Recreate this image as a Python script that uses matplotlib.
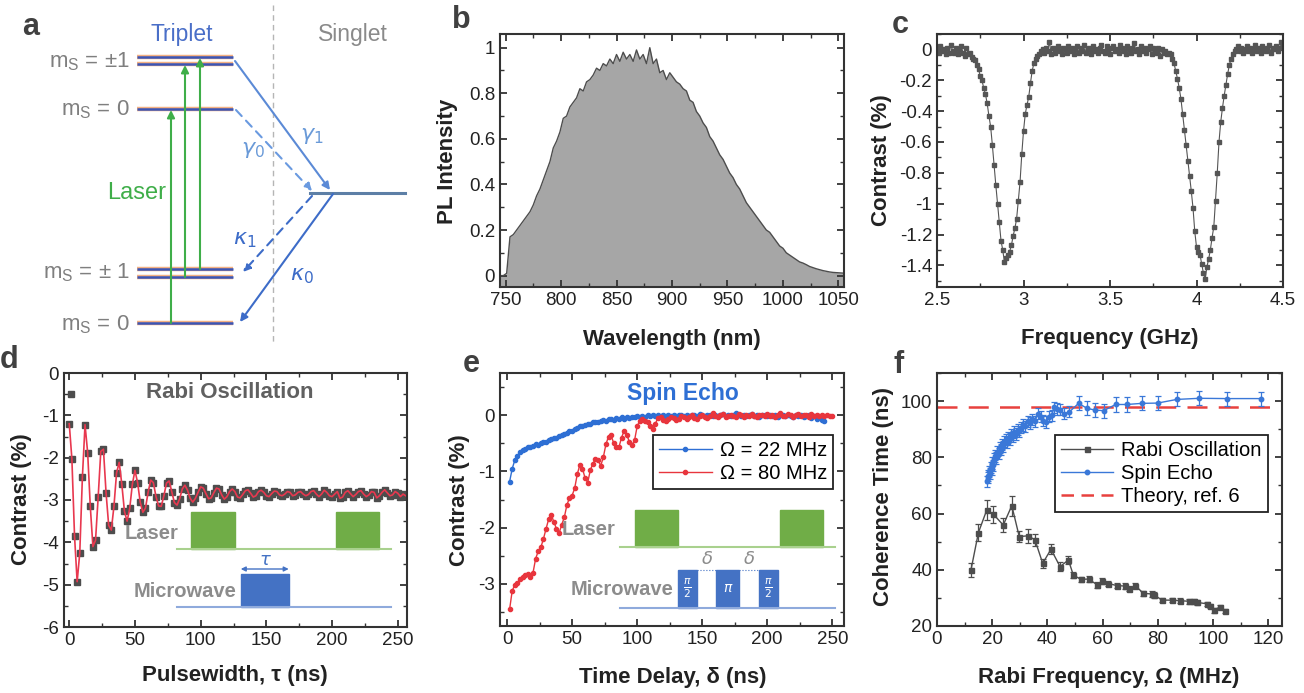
import matplotlib
matplotlib.use('Agg')
import matplotlib.pyplot as plt
import numpy as np
from matplotlib.patches import Rectangle
from matplotlib.lines import Line2D
from matplotlib.ticker import MultipleLocator, FuncFormatter

plt.rcParams['font.family'] = ['Liberation Sans', 'DejaVu Sans']
plt.rcParams['axes.unicode_minus'] = False
plt.rcParams['mathtext.fontset'] = 'dejavusans'

# ---------------- data ----------------
# b: PL spectrum, 3 nm steps from 745 nm
pl_start, pl_step = 745, 3
pl_intensity = [
    0.0, 0.0, 0.01, 0.17, 0.18, 0.20, 0.22, 0.24, 0.26, 0.28,
    0.31, 0.35, 0.38, 0.42, 0.46, 0.50, 0.56, 0.59, 0.63, 0.69,
    0.70, 0.74, 0.76, 0.78, 0.82, 0.81, 0.85, 0.86, 0.88, 0.91,
    0.90, 0.93, 0.92, 0.95, 0.93, 0.97, 0.94, 0.98, 0.95, 0.97,
    0.94, 0.99, 0.95, 0.97, 0.93, 1.00, 0.93, 0.95, 0.89, 0.90,
    0.86, 0.89, 0.87, 0.85, 0.84, 0.82, 0.81, 0.77, 0.76, 0.72,
    0.70, 0.67, 0.65, 0.61, 0.59, 0.56, 0.53, 0.51, 0.48, 0.45,
    0.43, 0.40, 0.38, 0.35, 0.32, 0.30, 0.28, 0.26, 0.24, 0.22,
    0.20, 0.19, 0.17, 0.15, 0.13, 0.12, 0.10, 0.09, 0.08, 0.07,
    0.06, 0.055, 0.048, 0.04, 0.035, 0.03, 0.026, 0.022, 0.019, 0.016,
    0.014, 0.013, 0.012, 0.011,
]

# c: ODMR contrast, 0.01 GHz steps from 2.50 GHz
odmr_start, odmr_step = 2.50, 0.01
odmr_contrast = [
    # 2.50 - 2.70
    0.01, -0.02, 0.02, -0.01, 0.00, -0.03, 0.01, -0.02, 0.03, -0.01, -0.02,
    0.01, -0.03, 0.00, 0.02, -0.02, -0.04, 0.01, -0.03, -0.02, -0.05,
    # 2.71 - 3.10
    -0.06, -0.07, -0.10, -0.13, -0.17, -0.20, -0.25, -0.29, -0.35, -0.43,
    -0.50, -0.62, -0.75, -0.88, -1.00, -1.12, -1.24, -1.30, -1.38, -1.35,
    -1.33, -1.31, -1.27, -1.21, -1.16, -1.10, -0.98, -0.86, -0.68, -0.53,
    -0.42, -0.36, -0.31, -0.22, -0.14, -0.09, -0.06, -0.04, -0.03, -0.01,
    # 3.11 - 3.84
    0.00, -0.02, 0.01, -0.01, 0.05, -0.03, 0.01, -0.02, 0.00, 0.02,
    -0.01, -0.03, 0.01, 0.00, -0.02, 0.02, -0.01, 0.01, -0.03, 0.00,
    0.02, -0.02, 0.01, -0.01, 0.03, -0.02, 0.00, 0.01, -0.03, 0.02,
    -0.01, 0.00, -0.02, 0.01, 0.03, -0.01, -0.02, 0.02, 0.00, -0.03,
    0.01, 0.02, -0.01, 0.00, -0.02, 0.03, 0.01, -0.01, -0.03, 0.02,
    0.00, -0.02, 0.01, 0.04, -0.01, 0.00, -0.03, 0.02, -0.01, 0.01,
    -0.02, 0.00, 0.02, -0.03, 0.01, -0.01, -0.02, 0.01, -0.04, 0.00,
    -0.02, -0.01, -0.03, -0.02,
    # 3.85 - 4.22
    -0.03, -0.06, -0.09, -0.14, -0.19, -0.25, -0.32, -0.42, -0.52, -0.62,
    -0.72, -0.82, -0.92, -1.03, -1.18, -1.28, -1.31, -1.33, -1.39, -1.45,
    -1.49, -1.41, -1.36, -1.30, -1.22, -1.15, -0.98, -0.80, -0.60, -0.47,
    -0.38, -0.30, -0.23, -0.16, -0.10, -0.06, -0.03, -0.01,
    # 4.23 - 4.50
    0.00, 0.02, -0.01, 0.01, -0.02, 0.00, 0.02, -0.01, 0.01, -0.02,
    0.00, 0.03, -0.01, 0.01, -0.02, 0.02, 0.00, -0.01, 0.01, 0.03,
    -0.02, 0.01, 0.00, 0.02, -0.01, 0.01, 0.05, 0.02,
]

# d: Rabi oscillation, 2 ns steps from 0 ns
rabi_step = 2
rabi_contrast = [
    -1.20, -2.03, -3.84, -4.93, -4.25, -2.46, -1.22, -1.88, -3.15, -4.10,
    -3.95, -2.93, -1.85, -1.80, -2.83, -3.60, -3.71, -3.15, -2.36, -2.11,
    -2.63, -3.27, -3.50, -3.20, -2.63, -2.30, -2.59, -3.05, -3.29, -3.19,
    -2.82, -2.53, -2.59, -2.92, -3.14, -3.15, -2.90, -2.60, -2.55, -2.81,
    -3.06, -3.12, -2.97, -2.74, -2.65, -2.77, -2.96, -3.05, -2.96, -2.82,
    -2.69, -2.72, -2.85, -2.97, -2.95, -2.83, -2.72, -2.74, -2.88, -2.98,
    -2.92, -2.80, -2.74, -2.80, -2.93, -2.95, -2.87, -2.78, -2.76, -2.84,
    -2.93, -2.90, -2.80, -2.77, -2.82, -2.90, -2.92, -2.85, -2.79, -2.80,
    -2.88, -2.90, -2.86, -2.80, -2.82, -2.90, -2.88, -2.82, -2.80, -2.86,
    -2.90, -2.87, -2.80, -2.78, -2.86, -2.92, -2.86, -2.77, -2.82, -2.90,
    -2.92, -2.86, -2.80, -2.96, -2.93, -2.82, -2.78, -2.85, -2.92, -2.87,
    -2.80, -2.78, -2.86, -2.92, -2.88, -2.80, -2.82, -2.95, -2.90, -2.82,
    -2.76, -2.83, -2.90, -2.88, -2.80, -2.84, -2.92, -2.86, -2.90,
]
rabi_outlier_t = [1]
rabi_outlier_c = [-0.5]

# e: spin echo, 2 ns steps from 2 ns
echo_step = 2
echo_22 = [
    -1.18, -0.95, -0.80, -0.72, -0.66, -0.62, -0.60, -0.57, -0.56, -0.54,
    -0.52, -0.53, -0.49, -0.47, -0.48, -0.44, -0.43, -0.40, -0.41, -0.37,
    -0.36, -0.33, -0.32, -0.29, -0.28, -0.25, -0.23, -0.20, -0.19, -0.17,
    -0.15, -0.16, -0.13, -0.12, -0.13, -0.10, -0.09, -0.10, -0.07, -0.06,
    -0.08, -0.05, -0.07, -0.04, -0.06, -0.03, -0.05, -0.03, -0.04, -0.02,
    -0.04, -0.01, -0.03, 0.00, -0.02, 0.01, -0.02, 0.00, -0.01, 0.01,
    -0.02, 0.00, -0.01, 0.01, -0.02, 0.00, 0.01, -0.01, 0.00, -0.02,
    0.01, 0.00, -0.01, 0.02, 0.00, -0.02, 0.01, 0.00, -0.01, 0.01,
    -0.02, 0.00, 0.02, -0.01, 0.00, -0.02, 0.01, 0.03, 0.00, -0.01,
    0.01, -0.02, 0.00, 0.02, -0.01, 0.00, -0.03, 0.01, 0.00, -0.02,
    0.01, -0.01, 0.00, -0.03, 0.01, 0.00, -0.02, 0.01, -0.01, -0.04,
    0.00, -0.02, 0.01, -0.03, -0.01, 0.00, -0.05, -0.02, -0.06, -0.04,
    -0.08, -0.10,
]
echo_80 = [
    -3.45, -3.12, -3.02, -2.98, -2.92, -2.88, -2.84, -2.82, -2.88, -2.80,
    -2.55, -2.42, -2.35, -2.20, -2.02, -1.85, -1.77, -1.90, -2.02, -2.10,
    -1.95, -1.82, -1.60, -1.47, -1.43, -1.30, -1.05, -0.88, -0.95, -1.12,
    -1.20, -0.98, -0.86, -0.78, -0.80, -0.90, -0.75, -0.52, -0.38, -0.36,
    -0.50, -0.57, -0.57, -0.40, -0.28, -0.35, -0.47, -0.53, -0.45, -0.20,
    -0.10, -0.07, -0.10, -0.12, -0.20, -0.24, -0.15, -0.05, -0.04, -0.08,
    -0.11, -0.06, -0.03, -0.05, -0.09, -0.06, -0.02, -0.04, -0.07, -0.03,
    0.00, -0.05, -0.06, -0.02, 0.01, -0.03, -0.05, -0.01, 0.03, -0.02,
    -0.04, 0.00, 0.02, -0.03, -0.02, 0.01, -0.01, -0.04, 0.02, 0.00,
    -0.03, 0.01, -0.02, 0.02, -0.01, -0.03, 0.01, 0.00, -0.02, 0.02,
    -0.01, 0.00, -0.03, 0.01, 0.03, -0.01, -0.02, 0.02, 0.00, -0.03,
    0.01, 0.02, -0.02, 0.00, 0.01, -0.03, 0.02, -0.01, 0.00, -0.02,
    0.01, -0.01, 0.00, -0.02, -0.01,
]

# f: coherence time vs Rabi frequency
rabi_freq = [12.3, 15.0, 18.0, 20.4, 24.0, 27.1, 29.8, 33.1, 35.5, 38.3,
             41.3, 44.6, 47.6, 49.4, 52.1, 54.9, 58.1, 59.7, 62.1, 65.1,
             68.1, 69.6, 71.8, 74.8, 77.8, 78.8, 81.5, 85.1, 88.1, 91.2,
             93.0, 94.2, 97.8, 99.0, 100.2, 102.4, 104.4]
rabi_time = [39.9, 53.2, 61.2, 59.8, 55.9, 62.8, 51.8, 52.1, 50.6, 42.3,
             47.3, 41.1, 43.5, 38.1, 36.6, 36.7, 34.6, 36.0, 35.1, 34.4,
             34.2, 33.3, 34.4, 31.6, 31.4, 31.0, 29.2, 29.2, 29.0, 28.8,
             28.8, 28.4, 27.9, 27.1, 25.6, 26.7, 25.4]
rabi_err = [2.5, 3.0, 3.5, 3.0, 2.5, 3.5, 2.0, 2.5, 2.0, 1.5,
            1.8, 1.5, 1.5, 1.2, 1.0, 1.0, 1.0, 1.0, 1.0, 1.0,
            1.0, 1.0, 1.0, 1.0, 1.0, 1.0, 0.8, 0.8, 0.8, 0.8,
            0.8, 0.8, 0.8, 0.8, 0.8, 0.8, 0.8]
echo_freq = [18.0, 18.3, 18.6, 18.9, 19.2, 19.5, 19.8, 20.1, 20.4, 20.8,
             21.1, 21.5, 21.9, 22.3, 22.7, 23.1, 23.5, 24.0, 24.4, 24.9,
             25.4, 25.9, 26.4, 26.9, 27.4, 28.0, 28.6, 29.2, 29.8, 30.5,
             31.2, 32.0, 32.8, 33.6, 34.5, 35.5, 36.5, 37.5, 38.5, 39.5,
             40.5, 41.5, 42.5, 43.5, 44.5, 46.0, 48.0, 51.3, 54.4, 57.4,
             60.4, 64.7, 68.8, 74.2, 79.9, 86.9, 95.0, 105.0, 117.5]
echo_time = [71.5, 73.5, 72.8, 75.0, 74.2, 76.5, 75.8, 78.0, 77.2, 79.5,
             80.5, 79.8, 82.0, 81.3, 83.5, 82.8, 84.5, 83.8, 85.5, 86.3,
             85.2, 87.0, 86.5, 88.0, 87.5, 89.0, 88.3, 89.8, 89.2, 90.5,
             91.5, 91.0, 92.8, 92.2, 93.5, 92.8, 95.5, 94.5, 93.0, 92.6,
             94.5, 95.0, 97.8, 97.2, 97.0, 95.5, 96.2, 99.2, 97.4, 96.8,
             96.6, 98.8, 98.8, 99.2, 99.3, 100.6, 101.0, 100.9, 100.9]
echo_err = [2.0] * 47 + [2.5] * 12
theory_time = 98

# ---------------- figure ----------------
W, H = 1304, 693
fig = plt.figure(figsize=(W / 100, H / 100), dpi=100)

DARK = '#222222'
GREY_TXT = '#8c8c8c'
GREEN = '#70ad47'
GREEN_L = '#a9d18e'
BLUE = '#4472c4'
BLUE_L = '#8faadc'


def add_ax(l, t, r, b):
    return fig.add_axes([l / W, 1 - b / H, (r - l) / W, (b - t) / H])


def ftext(x, y, s, **kw):
    fig.text(x / W, 1 - y / H, s, **kw)


def style(ax, xmaj, xmin, ymaj, ymin):
    for sp in ax.spines.values():
        sp.set_linewidth(1.5)
        sp.set_color('#333333')
    ax.xaxis.set_major_locator(MultipleLocator(xmaj))
    ax.xaxis.set_minor_locator(MultipleLocator(xmin))
    ax.yaxis.set_major_locator(MultipleLocator(ymaj))
    ax.yaxis.set_minor_locator(MultipleLocator(ymin))
    ax.tick_params(which='both', direction='in', top=True, right=True,
                   color='#333333', labelcolor=DARK, labelsize=13.5)
    ax.tick_params(which='major', length=5, width=1.3)
    ax.tick_params(which='minor', length=3, width=1.0)
    fmt = FuncFormatter(lambda v, p: '{:g}'.format(round(v, 6) + 0.0))
    ax.xaxis.set_major_formatter(fmt)
    ax.yaxis.set_major_formatter(fmt)


LBL = dict(fontsize=16, fontweight='bold', color=DARK, ha='center', va='center')
LET = dict(fontsize=22, fontweight='bold', color='#404040', ha='left', va='baseline')

# ---------------- a: energy levels ----------------
axa = add_ax(0, 0, 420, 345)
axa.set_xlim(0, 420)
axa.set_ylim(345, 0)
axa.axis('off')

axa.plot([273, 273], [5, 345], color='#b5b5b5', lw=1, ls=(0, (4, 3)))
for y in [57, 64, 109, 269, 277, 323]:
    axa.plot([137, 233], [y, y], color='#f4b183', lw=3.2, solid_capstyle='butt')
    axa.plot([137, 233], [y, y], color='#3b55b5', lw=1.8, solid_capstyle='butt')
axa.plot([310, 405], [193, 193], color='#5d7fa6', lw=2.2)


def arrow(x0, y0, x1, y1, color, ls='-', lw=1.5, ms=11):
    axa.annotate('', xy=(x1, y1), xytext=(x0, y0),
                 arrowprops=dict(arrowstyle='-|>', color=color, lw=lw, linestyle=ls,
                                 mutation_scale=ms, shrinkA=0, shrinkB=0))


arrow(171, 323, 171, 110, '#3fae49')
arrow(185, 277, 185, 65, '#3fae49')
arrow(200, 269, 200, 58, '#3fae49')
arrow(235, 61, 330, 190, '#5b8ad6')
arrow(236, 110, 312, 191, '#6a9ae0', ls=(0, (4, 3)))
arrow(312, 196, 243, 272, '#3d6cc8', ls=(0, (4, 3)))
arrow(333, 194, 240, 322, '#3d6cc8')

axa.text(182, 35, 'Triplet', fontsize=16.5, color='#4a6fc8', ha='center', va='center')
axa.text(353, 35, 'Singlet', fontsize=16.5, color='#8a8a8a', ha='center', va='center')
for y, s in [(62, 'm$_\\mathregular{S}$ = ±1'), (110, 'm$_\\mathregular{S}$ = 0'),
             (273, 'm$_\\mathregular{S}$ = ± 1'), (325, 'm$_\\mathregular{S}$ = 0')]:
    axa.text(130, y, s, fontsize=16, color='#7f7f7f', ha='right', va='center')
axa.text(137, 193, 'Laser', fontsize=17, color='#3fae49', ha='center', va='center')
axa.text(312, 135, r'$\gamma_1$', fontsize=16, color='#6a9ad8', ha='center', va='center')
axa.text(253, 150, r'$\gamma_0$', fontsize=16, color='#6a9ad8', ha='center', va='center')
axa.text(245, 240, r'$\kappa_1$', fontsize=16, color='#3d6cc8', ha='center', va='center')
axa.text(302, 275, r'$\kappa_0$', fontsize=16, color='#3d6cc8', ha='center', va='center')

# ---------------- b: PL spectrum ----------------
axb = add_ax(500, 34, 844, 287)
wl = pl_start + pl_step * np.arange(len(pl_intensity))
axb.fill_between(wl, pl_intensity, -0.2, color='#a6a6a6', lw=0)
axb.plot(wl, pl_intensity, color='#4d4d4d', lw=1)
axb.set_xlim(745, 1055)
axb.set_ylim(-0.05, 1.06)
style(axb, 50, 25, 0.2, 0.1)

# ---------------- c: ODMR ----------------
axc = add_ax(937, 34, 1283, 287)
freq = odmr_start + odmr_step * np.arange(len(odmr_contrast))
axc.plot(freq, odmr_contrast, color='#555555', lw=0.8, marker='s', ms=3.2)
axc.set_xlim(2.5, 4.5)
axc.set_ylim(-1.54, 0.1)
style(axc, 0.5, 0.25, 0.2, 0.1)

# ---------------- d: Rabi ----------------
axd = add_ax(64, 373, 407, 627)
tr = rabi_step * np.arange(len(rabi_contrast))
axd.plot(tr, rabi_contrast, ls='none', marker='s', ms=4.2, color='#4d4d4d')
axd.plot(rabi_outlier_t, rabi_outlier_c, ls='none', marker='s', ms=4.2, color='#4d4d4d')
axd.plot(tr, rabi_contrast, color='#e8384f', lw=1.2)
axd.set_xlim(-4, 257)
axd.set_ylim(-6, 0)
style(axd, 50, 25, 1, 0.5)
axd.text(122, -0.47, 'Rabi Oscillation', fontsize=16, fontweight='bold',
         color='#606060', ha='center', va='center')
axd.plot([82, 245], [-4.16, -4.16], color=GREEN_L, lw=1.5)
axd.add_patch(Rectangle((92.5, -4.16), 33.5, 0.87, color=GREEN))
axd.add_patch(Rectangle((203, -4.16), 33, 0.87, color=GREEN))
axd.plot([82, 245], [-5.53, -5.53], color=BLUE_L, lw=1.5)
axd.add_patch(Rectangle((130.5, -5.53), 36.5, 0.78, color=BLUE))
axd.text(83, -3.78, 'Laser', fontsize=14.5, fontweight='bold', color=GREY_TXT,
         ha='right', va='center')
axd.text(127, -5.15, 'Microwave', fontsize=14.5, fontweight='bold', color=GREY_TXT,
         ha='right', va='center')
axd.annotate('', xy=(167, -4.63), xytext=(130.5, -4.63),
             arrowprops=dict(arrowstyle='<|-|>', color=BLUE, lw=1, mutation_scale=7,
                             shrinkA=0, shrinkB=0))
axd.text(149, -4.42, r'$\tau$', fontsize=13, color=BLUE, ha='center', va='center')

# ---------------- e: spin echo ----------------
axe = add_ax(500, 373, 844, 626)
te22 = echo_step * (1 + np.arange(len(echo_22)))
te80 = echo_step * (1 + np.arange(len(echo_80)))
l22, = axe.plot(te22, echo_22, color='#2e6fd4', lw=1, marker='o', ms=3,
                label='Ω = 22 MHz')
l80, = axe.plot(te80, echo_80, color='#e8353d', lw=1, marker='o', ms=3,
                label='Ω = 80 MHz')
axe.set_xlim(-5.4, 259)
axe.set_ylim(-3.75, 0.75)
style(axe, 50, 25, 1, 0.5)
leg = axe.legend(handles=[l22, l80], loc='upper right', bbox_to_anchor=(0.968, 0.755),
                 fontsize=14.5, frameon=True, fancybox=False, framealpha=1,
                 edgecolor='#222222', handlelength=2.6, borderpad=0.3,
                 labelspacing=0.2, handletextpad=0.4, borderaxespad=0)
leg.get_frame().set_linewidth(1.3)
axe.text(135, 0.39, 'Spin Echo', fontsize=16.5, fontweight='bold', color='#2e6fd4',
         ha='center', va='center')
axe.plot([87, 252], [-2.34, -2.34], color=GREEN_L, lw=1.5)
axe.add_patch(Rectangle((98.5, -2.34), 33, 0.65, color=GREEN))
axe.add_patch(Rectangle((210, -2.34), 33, 0.65, color=GREEN))
axe.plot([87, 252], [-3.43, -3.43], color=BLUE_L, lw=1.5)
for x0, w in [(131.5, 14.5), (161, 17.5), (194, 14.5)]:
    axe.add_patch(Rectangle((x0, -3.43), w, 0.68, color=BLUE))
axe.text(138.75, -3.08, r'$\frac{\pi}{2}$', fontsize=11, color='white', ha='center', va='center')
axe.text(169.75, -3.08, r'$\pi$', fontsize=10, color='white', ha='center', va='center')
axe.text(201.25, -3.08, r'$\frac{\pi}{2}$', fontsize=11, color='white', ha='center', va='center')
for a, b in [(146, 161), (178.5, 194)]:
    axe.plot([a, b], [-2.76, -2.76], color=BLUE, lw=0.8, ls=':')
    axe.text((a + b) / 2, -2.56, r'$\delta$', fontsize=13, color=GREY_TXT,
             ha='center', va='center')
axe.text(83, -2.04, 'Laser', fontsize=14.5, fontweight='bold', color=GREY_TXT,
         ha='right', va='center')
axe.text(128, -3.1, 'Microwave', fontsize=14.5, fontweight='bold', color=GREY_TXT,
         ha='right', va='center')

# ---------------- f: coherence time ----------------
axf = add_ax(937, 373, 1282, 626)
axf.axhline(theory_time, color='#e8413e', lw=1.8, ls=(0, (8, 4.5)), zorder=1)
axf.errorbar(rabi_freq, rabi_time, yerr=rabi_err, color='#4d4d4d', lw=1, marker='s',
             ms=3.6, capsize=2.5, elinewidth=0.9, capthick=0.9, zorder=3)
axf.errorbar(echo_freq, echo_time, yerr=echo_err, color='#3a78d8', lw=1, marker='o',
             ms=3.2, capsize=2.5, elinewidth=0.9, capthick=0.9, zorder=3)
axf.set_xlim(0, 125)
axf.set_ylim(20, 110)
style(axf, 20, 10, 20, 10)
hands = [Line2D([], [], color='#4d4d4d', lw=1, marker='s', ms=3.6),
         Line2D([], [], color='#3a78d8', lw=1, marker='o', ms=3.2),
         Line2D([], [], color='#e8413e', lw=1.8, ls=(0, (5, 3)))]
leg = axf.legend(hands, ['Rabi Oscillation', 'Spin Echo', 'Theory, ref. 6'],
                 loc='upper right', bbox_to_anchor=(0.959, 0.755), fontsize=14.5,
                 frameon=True, fancybox=False, framealpha=1, edgecolor='#222222',
                 handlelength=2.6, borderpad=0.3, labelspacing=0.2,
                 handletextpad=0.4, borderaxespad=0)
leg.get_frame().set_linewidth(1.3)

# ---------------- labels ----------------
ftext(672, 340, 'Wavelength (nm)', **LBL)
ftext(447, 161, 'PL Intensity', rotation=90, **LBL)
ftext(1110, 338, 'Frequency (GHz)', **LBL)
ftext(881, 160, 'Contrast (%)', rotation=90, **LBL)
ftext(235, 676, 'Pulsewidth, τ (ns)', **LBL)
ftext(22, 499, 'Contrast (%)', rotation=90, **LBL)
ftext(673, 678, 'Time Delay, δ (ns)', **LBL)
ftext(459, 500, 'Contrast (%)', rotation=90, **LBL)
ftext(1109, 677, 'Rabi Frequency, Ω (MHz)', **LBL)
ftext(883, 497, 'Coherence Time (ns)', rotation=90, **LBL)

ftext(22, 35, 'a', **LET)
ftext(452, 28, 'b', **LET)
ftext(892, 33, 'c', **LET)
ftext(0, 368, 'd', **LET)
ftext(463, 372, 'e', **LET)
ftext(893, 373, 'f', **LET)

fig.savefig('out.png', dpi=100)
